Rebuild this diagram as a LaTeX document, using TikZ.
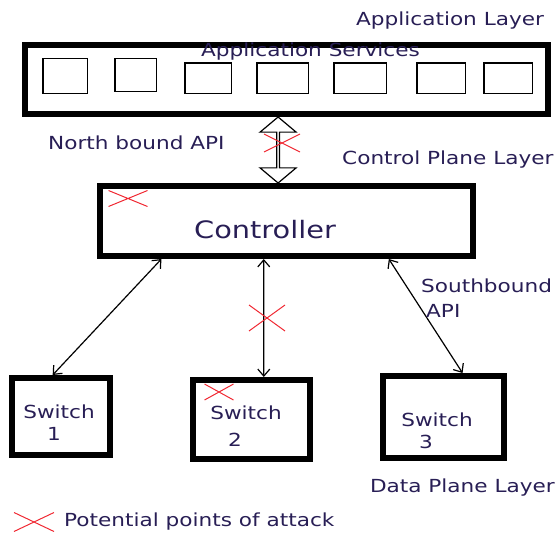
\documentclass[tikz,border=0pt]{standalone}
\usepackage{fontspec}
\setmainfont{DejaVu Sans}[FakeStretch=1.2]
\usetikzlibrary{arrows.meta,calc,shapes.arrows,shapes.misc}
\definecolor{labelblue}{RGB}{40,30,85}
\definecolor{attackred}{RGB}{240,40,50}

\begin{document}
\begin{tikzpicture}[x=1pt,y=-1pt,
        layer/.style = {draw, line width=6pt, inner sep=0pt},
        service/.style = {draw, line width=1.5pt, inner sep=0pt},
        txt/.style = {text=labelblue, inner sep=0pt, font=\fontsize{18}{20}\selectfont},
        attack/.style = {cross out, draw=attackred, line width=1pt, inner sep=0pt},
        link/.style = {{Straight Barb[length=7pt,width=12pt]}-{Straight Barb[length=7pt,width=12pt]}, line width=1.2pt},
        bigarrow/.style = {double arrow, draw, line width=1.2pt, rotate=90, inner sep=0pt, minimum width=36pt, double arrow head extend=7pt, double arrow tip angle=100, fill=white}]
        \useasboundingbox (0,0) rectangle (559,535);
        \node[layer, minimum width=523pt, minimum height=69pt] (app) at (286.5,79.5) {};
        \node[service, minimum width=44.5pt, minimum height=34.5pt] (a1) at (65,76) {};
        \node[service, minimum width=41.5pt, minimum height=32.5pt] (a2) at (135.5,75) {};
        \node[service, minimum width=46.5pt, minimum height=30.5pt] (a3) at (208,78) {};
        \node[service, minimum width=51.5pt, minimum height=30.5pt] (a4) at (282.5,78) {};
        \node[service, minimum width=52.5pt, minimum height=30.5pt] (a5) at (360,78) {};
        \node[service, minimum width=48.5pt, minimum height=30.5pt] (a6) at (441,78) {};
        \node[service, minimum width=48.5pt, minimum height=30.5pt] (a7) at (508,78) {};
        \node[txt, anchor=west] (applayer) at (356,21) {Application Layer};
        \node[txt, anchor=west] (appserv) at (201,52) {Application Services};

        \node[layer, minimum width=373pt, minimum height=70pt] (ctrl) at (286.5,221) {};
        \node[txt, font=\fontsize{24}{26}\selectfont] (ctrltxt) at (265,230) {Controller};
        \node[txt, anchor=west] (northapi) at (48,143) {North bound API};
        \node[txt, anchor=west] (ctrllayer) at (342,160) {Control Plane Layer};

        \coordinate (nb1) at ($(app.south west)!0.484!(app.south east)$);
        \coordinate (nb2) at ($(ctrl.north west)!0.478!(ctrl.north east)$);
        \path (nb1) -- node[midway, bigarrow, minimum height=66pt] (nbarrow) {} (nb2);

        \node[layer, minimum width=98pt, minimum height=77pt] (s1) at (61,416.5) {};
        \node[layer, minimum width=117pt, minimum height=79pt] (s2) at (251.5,419.5) {};
        \node[layer, minimum width=121pt, minimum height=82pt] (s3) at (443.5,417) {};
        \node[txt] (s1a) at (59,412) {Switch};
        \node[txt] (s1b) at (54,434) {1};
        \node[txt] (s2a) at (246,413) {Switch};
        \node[txt] (s2b) at (235,440) {2};
        \node[txt] (s3a) at (437,420) {Switch};
        \node[txt] (s3b) at (426,442) {3};

        \coordinate (c1) at ($(ctrl.south west)!0.17!(ctrl.south east)$);
        \coordinate (c2) at ($(ctrl.south west)!0.44!(ctrl.south east)$);
        \coordinate (c3) at ($(ctrl.south west)!0.77!(ctrl.south east)$);
        \coordinate (t1) at ($(s1.north west)!0.42!(s1.north east)$);
        \coordinate (t2) at ($(s2.north west)!0.60!(s2.north east)$);
        \coordinate (t3) at ($(s3.north west)!0.65!(s3.north east)$);
        \draw[link] (c1) -- (t1);
        \draw[link] (c2) -- (t2);
        \draw[link] (c3) -- (t3);
        \node[txt, anchor=west] (southapi) at (421,286) {Southbound};
        \node[txt, anchor=west] (southapi2) at (426,311) {API};
        \node[txt, anchor=east] (datalayer) at (555,488) {Data Plane Layer};

        \node[attack, minimum width=38pt, minimum height=15pt] (x1) at (128,198.5) {};
        \node[attack, minimum width=35pt, minimum height=17pt] (x2) at (282,143) {};
        \node[attack, minimum width=35pt, minimum height=25pt] (x3) at (267,318) {};
        \node[attack, minimum width=28pt, minimum height=15pt] (x4) at (219,392) {};
        \node[attack, minimum width=39pt, minimum height=18pt] (x5) at (34,522) {};
        \node[txt, anchor=west] (legend) at (64,522) {Potential points of attack};
\end{tikzpicture}
\end{document}
